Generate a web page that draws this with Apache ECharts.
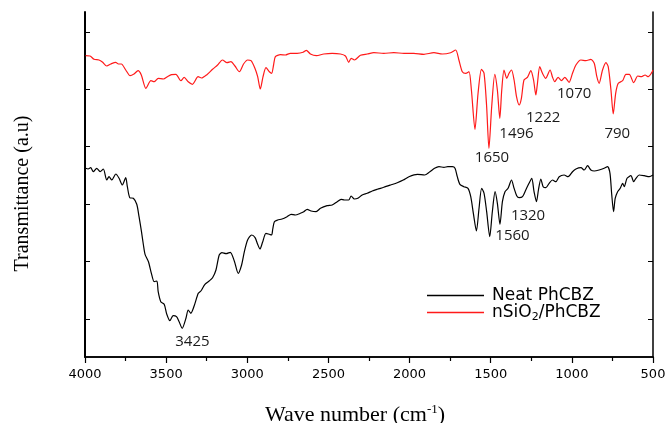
<!DOCTYPE html>
<html>
<head>
<meta charset="utf-8">
<script src="https://cdn.jsdelivr.net/npm/echarts@6/dist/echarts.min.js"></script>
<style>
  html, body { margin: 0; padding: 0; background: #fff; }
  #chart { width: 667px; height: 423px; }
</style>
</head>
<body>
<div id="chart"></div>
<script>
// FTIR spectra: wavenumber (cm-1) and transmittance (arbitrary units)
const wnNeat = [3996,3981,3965,3949,3928,3907,3887,3866,3852,3835,3810,3790,3770,3749,3739,3724,3702,3681,3667,3652,3640,3630,3609,3591,3574,3557,3549,3533,3512,3496,3477,3457,3436,3420,3401,3378,3364,3348,3327,3302,3286,3261,3235,3214,3193,3173,3156,3131,3105,3080,3056,3035,3018,2998,2973,2952,2936,2922,2906,2885,2864,2850,2843,2833,2813,2786,2755,2730,2704,2673,2652,2631,2607,2576,2549,2508,2477,2446,2422,2401,2375,2360,2340,2319,2292,2261,2230,2199,2159,2117,2076,2039,2004,1952,1907,1875,1846,1819,1788,1764,1736,1720,1706,1690,1665,1640,1623,1607,1588,1572,1556,1541,1525,1506,1490,1473,1459,1443,1428,1412,1393,1372,1356,1340,1325,1304,1284,1264,1247,1233,1218,1206,1191,1177,1160,1140,1119,1099,1078,1048,1023,996,975,944,924,903,883,862,832,801,780,765,755,743,733,718,702,687,677,660,636,619,605,585,554,523,500];
const tNeat = [188.7,188,189.3,185.3,188.7,185.3,188,177,180.3,177,183,178.7,172,179.3,170.3,159.3,158.7,152.7,140.3,125.3,112,102.7,95.3,83.7,75.3,76,65.3,55.3,52.7,42.7,36.3,41.3,40.3,35.3,28.7,38.7,47,43.7,51.3,63.7,66,72.7,76,79.3,87,102,104.3,103.3,104.7,96,83.7,92,105.3,117,122,119.3,112.7,108,114.7,123.7,122.7,122,128,135.3,137,138,140.3,142.7,142,143.7,145.3,147.7,146,145.3,148.7,151.3,152,155.3,157.7,157,157,161,158,158.7,162,163.7,166,167.7,169.7,172,174.3,177,180.3,182.7,182,185.3,188.7,190.3,189.7,190.3,190.3,188.7,180.3,172.7,170.3,168.7,160.3,143.7,126,148.7,168.7,163.7,145.3,120.3,145.3,165.3,153.7,132.7,155.3,165.3,168.7,177,168.7,161.3,159.3,160.3,167,173.7,178.7,165.3,155.3,167,178,170.3,169.3,173.7,177,175.3,180.3,182,180.3,185.3,188,189.3,187,191.3,187,186,187,188.7,190.3,183.7,163.7,145.3,158.7,165.3,168.7,173.7,170.3,178.7,181.3,175.3,178.7,182,181.3,180.3,182];

const wnSilica = [3996,3969,3944,3914,3893,3866,3841,3811,3794,3776,3749,3722,3698,3673,3653,3625,3594,3574,3549,3517,3492,3467,3440,3409,3389,3364,3338,3303,3282,3249,3214,3183,3153,3125,3101,3076,3049,3023,2998,2977,2953,2936,2920,2903,2885,2864,2850,2838,2827,2796,2765,2735,2693,2656,2636,2611,2574,2529,2477,2426,2395,2375,2360,2340,2303,2261,2220,2159,2097,2035,1974,1912,1850,1798,1747,1716,1696,1675,1654,1634,1619,1597,1578,1557,1541,1525,1511,1494,1475,1459,1444,1432,1418,1401,1387,1372,1356,1341,1325,1311,1295,1274,1253,1236,1222,1212,1198,1181,1161,1134,1119,1105,1085,1064,1043,1017,996,975,944,914,883,862,846,832,811,790,776,759,745,730,714,687,667,646,619,594,570,549,529,508,500];
const tSilica = [301.3,301,297.7,297,295,291,293,294.7,293,293,287,281.3,283,286.3,282,268.7,276.3,275.3,278.7,278,280.3,282.3,282.7,276.3,279.7,275.3,272.7,280.3,279,282.3,287.7,292,297,294.3,295.3,291,285.3,293,297,296.3,288.7,280.3,268,280.3,289.3,285.3,283.7,292,300.3,302.3,302,303.7,303.7,304.7,306.7,303,301.3,303,303.7,303,301,294.7,298.7,297,301.7,303,304.3,303.7,304.3,303.7,303.7,302.7,304.3,303,304.3,307,297,285.3,283.7,285.3,267,227.7,263.7,287.7,283.7,250.3,208.7,250.3,282.7,267,238.7,267,287,278.7,283.7,287,277,260.3,252,258.7,277,279.7,286.3,277,262,273.7,290.3,283.7,278.7,287,279.7,275.3,279.7,276.3,279.7,274.7,283.7,292,297,296.3,297.7,293.7,280.3,273.7,287,294.3,290.3,267,243,263.7,273.7,276.3,282.7,282.7,274.3,281,280.3,282,280.3,284.3,287];

// peak annotations: text and anchor point in data space
const neatNotes = ['3425', '1560', '1320'];
const neatNoteWn = [3338, 1366, 1270];
const neatNoteT = [15.3, 121, 141.3];
const silicaNotes = ['1650', '1496', '1222', '1070', '790'];
const silicaNoteWn = [1492, 1341, 1177, 986, 720];
const silicaNoteT = [199.7, 223.7, 239.7, 263.7, 223.7];

// x-axis ticks and hidden y-axis tick positions
const xMin = 500, xMax = 4000, xStep = 500;
const yMin = 0, yMax = 345;
const yTicks = [38, 96, 153, 211, 268, 325];

const zip = (a, b) => a.map((v, i) => [v, b[i]]);
const notes = (txt, wn, t) => txt.map((s, i) => ({ coord: [wn[i], t[i]], value: s }));

const noteStyle = {
  show: true, position: 'inside', formatter: p => p.value,
  color: '#1a1a1a', fontSize: 15, fontFamily: 'Open Sans'
};

const chart = echarts.init(document.getElementById('chart'));
chart.setOption({
  animation: false,
  backgroundColor: '#fff',
  grid: { left: 85, right: 14, top: 12, bottom: 66, containLabel: false, outerBoundsMode: 'none' },
  legend: {
    orient: 'vertical', left: 422, top: 282,
    icon: 'rect', itemWidth: 57, itemHeight: 1.5, itemGap: 0,
    data: ['Neat PhCBZ', 'nSiO2/PhCBZ'],
    formatter: name => name === 'nSiO2/PhCBZ'
      ? '{n|nSiO}{s|2}{n|/PhCBZ}' : '{n|' + name + '}',
    textStyle: {
      padding: [0, 0, 0, 3],
      rich: {
        n: { fontSize: 17, fontFamily: 'DejaVu Sans', color: '#000', lineHeight: 20 },
        s: { fontSize: 11, fontFamily: 'DejaVu Sans', color: '#000', verticalAlign: 'bottom', lineHeight: 11 }
      }
    }
  },
  xAxis: [{
    type: 'value', inverse: true, min: xMin, max: xMax, interval: xStep,
    position: 'bottom',
    name: '{t|Wave number (cm}{u|-1}{t|)}',
    nameLocation: 'middle', nameGap: 46,
    nameTextStyle: {
      padding: [0, 28, 0, 0],
      rich: {
        t: { fontSize: 22, fontFamily: 'Liberation Serif', color: '#000', lineHeight: 24 },
        u: { fontSize: 13, fontFamily: 'Liberation Serif', color: '#000', verticalAlign: 'top', lineHeight: 13 }
      }
    },
    axisLine: { show: true, lineStyle: { color: '#000', width: 1.5 } },
    axisTick: { show: true, inside: false, length: 6, lineStyle: { color: '#000', width: 1.2 } },
    minorTick: { show: true, splitNumber: 2, length: 4, lineStyle: { color: '#000', width: 1.2 } },
    axisLabel: { color: '#000', fontSize: 13, fontFamily: 'DejaVu Sans', margin: 11, formatter: v => String(v) },
    splitLine: { show: false }
  }, {
    type: 'value', inverse: true, min: xMin, max: xMax, interval: xStep / 2,
    position: 'top',
    axisLine: { show: true, lineStyle: { color: '#000', width: 1.5 } },
    axisTick: { show: true, inside: true, length: 4, lineStyle: { color: '#000', width: 1 } },
    axisLabel: { show: false },
    splitLine: { show: false }
  }],
  yAxis: [{
    type: 'value', min: yMin, max: yMax, position: 'left',
    name: 'Transmittance (a.u)', nameLocation: 'middle', nameGap: 52,
    nameTextStyle: { fontSize: 20, fontFamily: 'Liberation Serif', color: '#000', padding: [0, 18, 0, 0] },
    axisLine: { show: true, lineStyle: { color: '#000', width: 2 } },
    axisTick: { show: true, inside: true, length: 5, customValues: yTicks, lineStyle: { color: '#000', width: 1 } },
    axisLabel: { show: false },
    splitLine: { show: false }
  }, {
    type: 'value', min: yMin, max: yMax, position: 'right',
    axisLine: { show: true, lineStyle: { color: '#000', width: 1.5 } },
    axisTick: { show: true, inside: true, length: 5, customValues: yTicks, lineStyle: { color: '#000', width: 1 } },
    axisLabel: { show: false },
    splitLine: { show: false }
  }],
  series: [{
    name: 'Neat PhCBZ', type: 'line', xAxisIndex: 0, yAxisIndex: 0,
    data: zip(wnNeat, tNeat), showSymbol: false, smooth: 0.25,
    lineStyle: { color: '#000', width: 1.2 }, itemStyle: { color: '#000' },
    markPoint: { symbolSize: 0, label: noteStyle, data: notes(neatNotes, neatNoteWn, neatNoteT) }
  }, {
    name: 'nSiO2/PhCBZ', type: 'line', xAxisIndex: 0, yAxisIndex: 0,
    data: zip(wnSilica, tSilica), showSymbol: false, smooth: 0.25,
    lineStyle: { color: '#ff1a1a', width: 1.2 }, itemStyle: { color: '#ff1a1a' },
    markPoint: { symbolSize: 0, label: noteStyle, data: notes(silicaNotes, silicaNoteWn, silicaNoteT) }
  }]
});
</script>
</body>
</html>
